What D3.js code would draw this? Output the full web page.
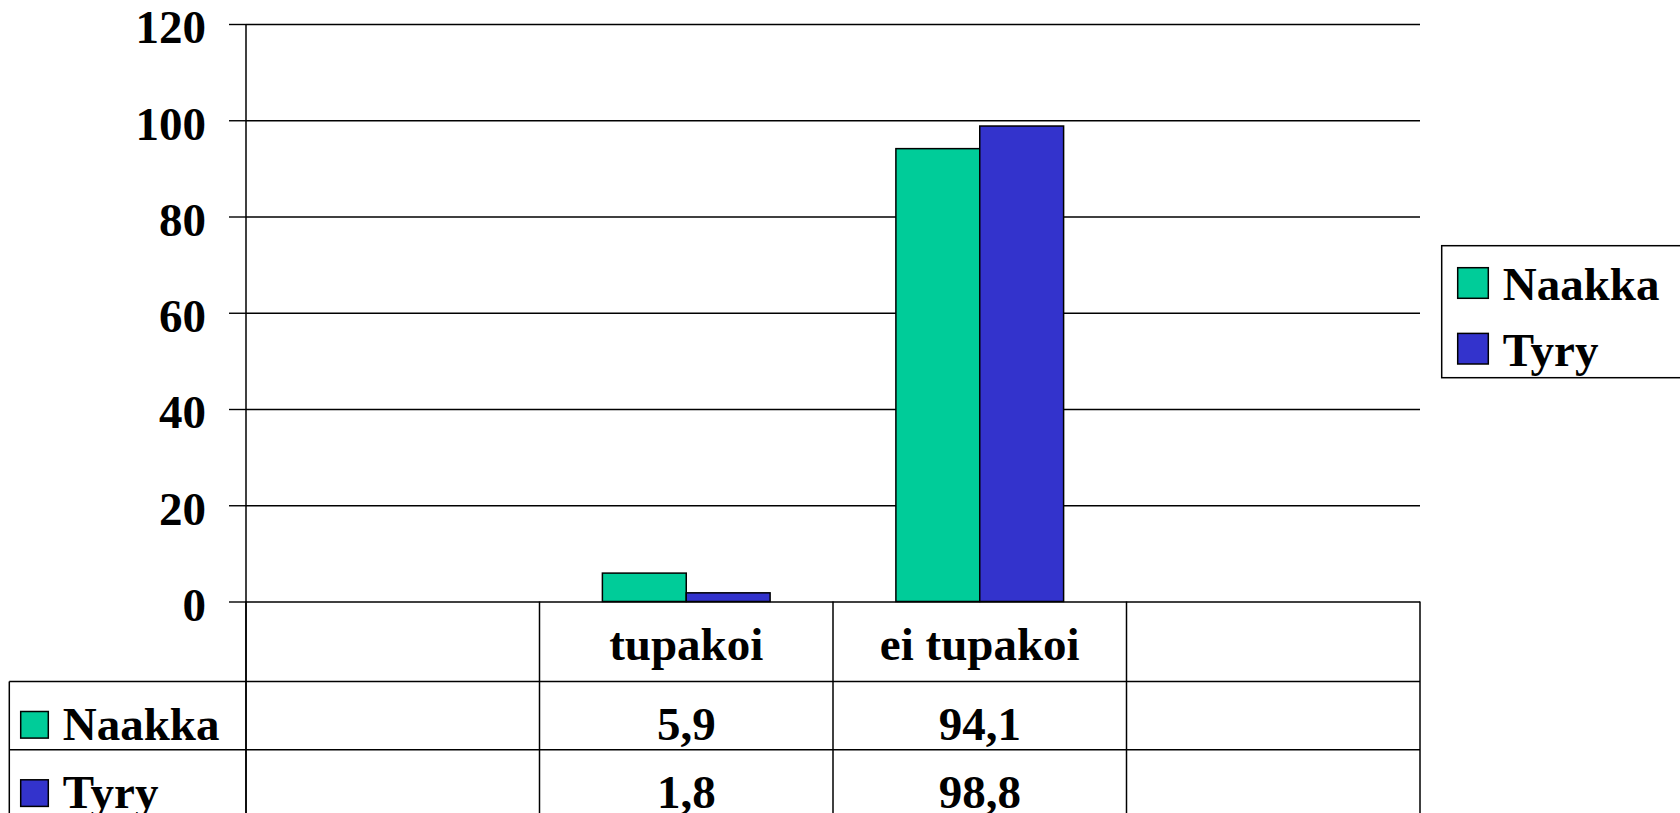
<!DOCTYPE html>
<html lang="fi">
<head>
  <meta charset="UTF-8">
  <title>Tupakointi - Naakka ja Tyry</title>
  <script src="https://d3js.org/d3.v7.min.js"></script>
  <style>
    body { margin: 0; background: #fff; }
    svg text {
      font-family: "Liberation Serif", "Times New Roman", serif;
      font-weight: bold;
      font-size: 47px;
      fill: #000;
    }
    .grid line, .axis-y line { stroke: #000; stroke-width: 1.4; }
    .grid path, .axis-y path { display: none; }
    .bar { stroke: #000; stroke-width: 1.5; }
    .rule { stroke: #000; stroke-width: 1.5; }
  </style>
</head>
<body>
  <svg width="1680" height="813"></svg>
  <script>
    const categories = ['', 'tupakoi', 'ei tupakoi', ''];
    const series = ['Naakka', 'Tyry'];
    const naakka = [null, 5.9, 94.1, null];
    const tyry = [null, 1.8, 98.8, null];
    const colors = ['#00cc99', '#3333cc'];
    const yTicks = [0, 20, 40, 60, 80, 100, 120];

    const values = [naakka, tyry];
    const margin = { top: 24, left: 246 };
    const width = 1174;
    const height = 577.5;
    const headerH = 80, rowH = 68.3;
    const tableLeft = 9.3 - margin.left;

    const fmt = d3.formatLocale({ decimal: ',', thousands: ' ', grouping: [3], currency: ['', ''] }).format('.1f');

    const svg = d3.select('svg');
    const chart = svg.append('g').attr('transform', `translate(${margin.left},${margin.top})`);

    const x = d3.scaleBand()
      .domain(d3.range(categories.length))
      .range([0, width])
      .padding(0);

    const x1 = d3.scaleBand()
      .domain(series)
      .range([0, x.bandwidth()])
      .paddingInner(0)
      .paddingOuter(0.75);

    const y = d3.scaleLinear()
      .domain([0, 120])
      .range([height, 0]);

    // grid lines
    chart.append('g')
      .attr('class', 'grid')
      .call(d3.axisLeft(y).tickValues(yTicks).tickSize(-width).tickFormat(''));

    // y axis ticks + labels
    chart.append('g')
      .attr('class', 'axis-y')
      .call(d3.axisLeft(y).tickValues(yTicks).tickSize(17).tickPadding(23))
      .call(g => g.selectAll('text')
        .attr('dy', '0.4em')
        .style('font-size', '47px')
        .style('font-family', '"Liberation Serif", "Times New Roman", serif')
        .style('font-weight', 'bold'));

    // bars
    series.forEach((s, si) => {
      chart.append('g')
        .selectAll('rect')
        .data(values[si].map((v, i) => ({ i, v })).filter(d => d.v != null))
        .enter().append('rect')
        .attr('class', 'bar')
        .attr('x', d => x(d.i) + x1(s))
        .attr('y', d => y(d.v))
        .attr('width', x1.bandwidth())
        .attr('height', d => y(0) - y(d.v))
        .attr('fill', colors[si]);
    });

    // y axis line, runs down through the data table
    chart.append('line')
      .attr('class', 'rule')
      .attr('x1', 0).attr('x2', 0)
      .attr('y1', 0).attr('y2', height + headerH + rowH * 2);

    // data table
    const table = chart.append('g').attr('transform', `translate(0,${y(0)})`);
    const tableBottom = headerH + rowH * series.length;

    // vertical column lines
    const colEdges = d3.range(categories.length).map(i => x(i)).concat([width]);
    table.selectAll('.col')
      .data(colEdges)
      .enter().append('line')
      .attr('class', 'rule')
      .attr('x1', d => d).attr('x2', d => d)
      .attr('y1', 0).attr('y2', tableBottom);

    table.append('line')
      .attr('class', 'rule')
      .attr('x1', tableLeft).attr('x2', tableLeft)
      .attr('y1', headerH).attr('y2', tableBottom);

    // horizontal row lines
    const rowEdges = [headerH, headerH + rowH, tableBottom];
    table.selectAll('.row')
      .data(rowEdges)
      .enter().append('line')
      .attr('class', 'rule')
      .attr('x1', tableLeft).attr('x2', width)
      .attr('y1', d => d).attr('y2', d => d);

    // category headers
    table.selectAll('.cat')
      .data(categories)
      .enter().append('text')
      .attr('x', (d, i) => x(i) + x.bandwidth() / 2)
      .attr('y', 58.5)
      .attr('text-anchor', 'middle')
      .text(d => d);

    // rows: legend key + values
    series.forEach((s, si) => {
      const top = headerH + rowH * si;
      table.append('rect')
        .attr('class', 'bar')
        .attr('x', 20.7 - margin.left)
        .attr('y', top + 30)
        .attr('width', 27.6)
        .attr('height', 26.6)
        .attr('fill', colors[si]);
      table.append('text')
        .attr('x', 62.7 - margin.left)
        .attr('y', top + 58.3)
        .text(s);
      table.selectAll(null)
        .data(values[si].map((v, i) => ({ i, v })).filter(d => d.v != null))
        .enter().append('text')
        .attr('x', d => x(d.i) + x.bandwidth() / 2)
        .attr('y', top + 58.3)
        .attr('text-anchor', 'middle')
        .text(d => fmt(d.v));
    });

    // legend at right
    const legend = svg.append('g').attr('transform', 'translate(1441.7,245.7)');
    legend.append('rect')
      .attr('width', 260)
      .attr('height', 132)
      .attr('fill', '#fff')
      .attr('stroke', '#000')
      .attr('stroke-width', 1.5);
    series.forEach((s, si) => {
      legend.append('rect')
        .attr('class', 'bar')
        .attr('x', 16)
        .attr('y', 22 + si * 65.7)
        .attr('width', 30.6)
        .attr('height', 30.6)
        .attr('fill', colors[si]);
      legend.append('text')
        .attr('x', 61)
        .attr('y', 54.3 + si * 65.7)
        .text(s);
    });
  </script>
</body>
</html>
